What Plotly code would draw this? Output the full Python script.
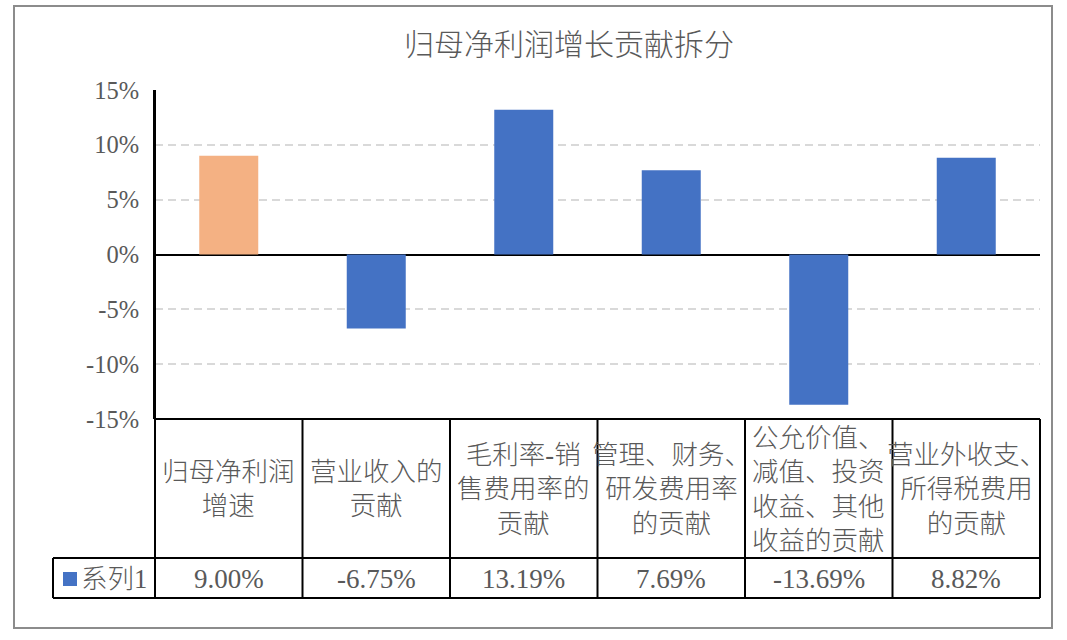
import plotly.graph_objects as go

categories = ["归母净利润<br>增速", "营业收入的<br>贡献", "毛利率-销<br>售费用率的<br>贡献",
              "管理、财务、<br>研发费用率<br>的贡献", "公允价值、<br>减值、投资<br>收益、其他<br>收益的贡献",
              "营业外收支、<br>所得税费用<br>的贡献"]
values = [0.0900, -0.0675, 0.1319, 0.0769, -0.1369, 0.0882]
series_name = "系列1"
title = "归母净利润增长贡献拆分"
tick_vals = [-0.15, -0.10, -0.05, 0.0, 0.05, 0.10, 0.15]
tick_labels = ["-15%", "-10%", "-5%", "0%", "5%", "10%", "15%"]

bar_colors = ["#F4B183"] + ["#4472C4"] * (len(values) - 1)

W, H = 1067, 640
L, R, T, B = 155, 27, 90, 221
PW, PH = W - L - R, H - T - B

def px(x):
    return (x - L) / PW

def py(y):
    return (H - B - y) / PH

SERIF_CJK = "Liberation Serif, Noto Sans CJK SC"
TXT = "#595959"

fig = go.Figure()
keys = [f"c{i}" for i in range(len(categories))]
fig.add_trace(go.Bar(x=keys, y=values, marker=dict(color=bar_colors, line_width=0),
                     name=series_name, showlegend=False))

n = len(categories)
shapes = []
# outer border
shapes.append(dict(type="rect", xref="paper", yref="paper", x0=px(14), x1=px(1052),
                   y0=py(628), y1=py(6), line=dict(color="#8C8C8C", width=2), layer="below"))
# y axis extension
shapes.append(dict(type="line", xref="paper", yref="paper", x0=0, x1=0, y0=py(598), y1=1,
                   line=dict(color="black", width=2)))
# table horizontal lines
shapes.append(dict(type="line", xref="paper", yref="paper", x0=0, x1=1, y0=0, y1=0,
                   line=dict(color="black", width=2)))
for yy in (558, 598):
    shapes.append(dict(type="line", xref="paper", yref="paper", x0=px(53), x1=1, y0=py(yy), y1=py(yy),
                       line=dict(color="black", width=2)))
shapes.append(dict(type="line", xref="paper", yref="paper", x0=px(53), x1=px(53), y0=py(598), y1=py(558),
                   line=dict(color="black", width=2)))
# table vertical lines at category boundaries
for i in range(1, n + 1):
    xb = i / n
    shapes.append(dict(type="line", xref="paper", yref="paper", x0=xb, x1=xb, y0=py(598), y1=0,
                       line=dict(color="black", width=2)))
# legend key
shapes.append(dict(type="rect", xref="paper", yref="paper", x0=px(63), x1=px(77), y0=py(586), y1=py(572),
                   line_width=0, fillcolor="#4472C4"))

annotations = []
for k, c, v in zip(keys, categories, values):
    annotations.append(dict(x=k, xref="x", y=py(489), yref="paper", text=c, showarrow=False,
                            xanchor="center", yanchor="middle", align="center",
                            font=dict(family=SERIF_CJK, size=26.5, color=TXT, weight=300)))
    annotations.append(dict(x=k, xref="x", y=py(579), yref="paper", text=f"{v*100:.2f}%", showarrow=False,
                            xanchor="center", yanchor="middle",
                            font=dict(family="Liberation Serif", size=27, color=TXT)))
annotations.append(dict(x=px(79), xref="paper", y=py(579), yref="paper", text=series_name, showarrow=False,
                        xanchor="left", yanchor="middle",
                        font=dict(family=SERIF_CJK, size=26.5, color=TXT, weight=300)))

fig.update_layout(
    width=W, height=H,
    margin=dict(l=L, r=R, t=T, b=B, autoexpand=False),
    paper_bgcolor="white", plot_bgcolor="white",
    title=dict(text=title, x=px(569), xref="paper", xanchor="center",
               y=1 - 44 / H, yref="container", yanchor="middle",
               font=dict(family="Noto Sans CJK SC", size=30, color=TXT, weight=300)),
    bargap=0.6,
    shapes=shapes, annotations=annotations,
    xaxis=dict(range=[-0.5, n - 0.5], showticklabels=False, showgrid=False, zeroline=False,
               showline=False, ticks=""),
    yaxis=dict(range=[-0.15, 0.15], tickvals=tick_vals, ticktext=tick_labels, showgrid=True,
               gridcolor="#D9D9D9", gridwidth=2, griddash="8px,5px",
               zeroline=True, zerolinecolor="black", zerolinewidth=2,
               showline=True, linecolor="black", linewidth=2, ticks="", ticklabelstandoff=9,
               tickfont=dict(family="Liberation Serif", size=24.5, color=TXT)),
)

fig.write_html("out.html", config={"displayModeBar": False},
               post_script="document.body.style.margin='0';document.body.style.overflow='hidden';")
